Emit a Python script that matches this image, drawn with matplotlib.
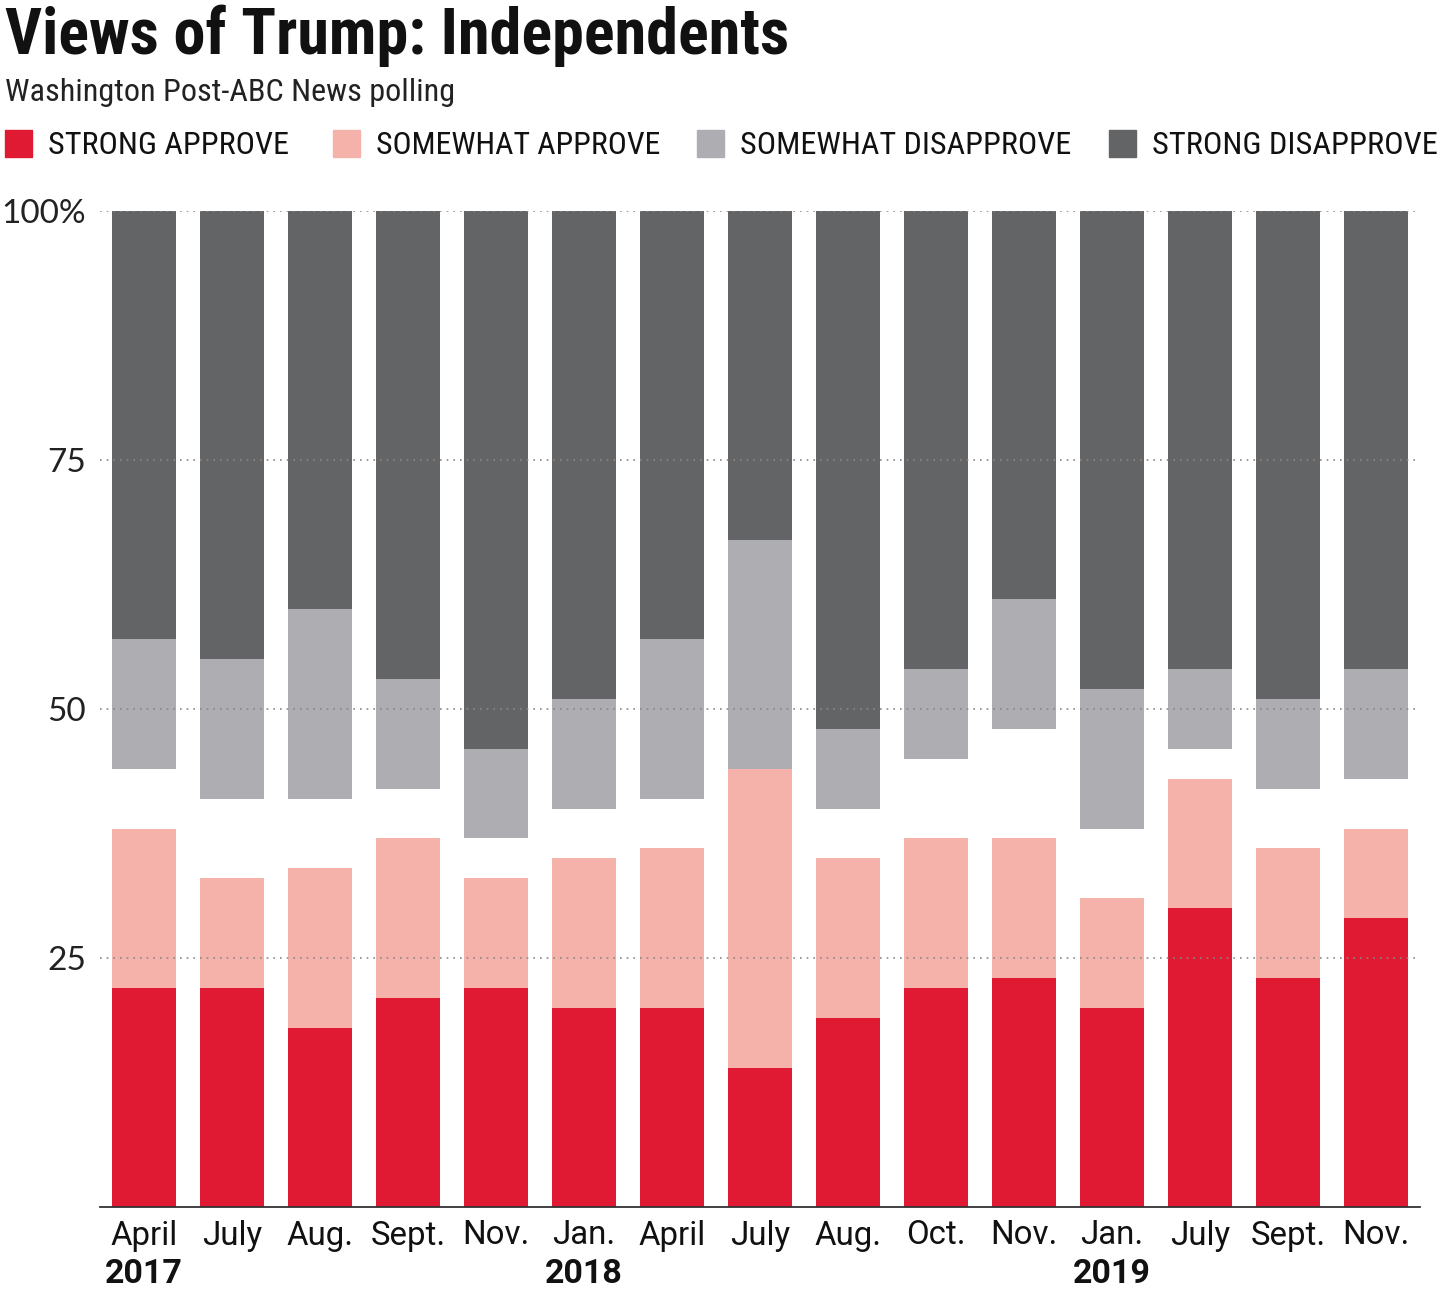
import numpy as np
import matplotlib
matplotlib.use("Agg")
import matplotlib.pyplot as plt
from matplotlib.patches import Rectangle

# Dados (porcentagens)
months = ["April", "July", "Aug.", "Sept.", "Nov.", "Jan.", "April", "July",
          "Aug.", "Oct.", "Nov.", "Jan.", "July", "Sept.", "Nov."]
years = {0: "2017", 5: "2018", 11: "2019"}
strong_approve = [22, 22, 18, 21, 22, 20, 20, 14, 19, 22, 23, 20, 30, 23, 29]
somewhat_approve = [16, 11, 16, 16, 11, 15, 16, 30, 16, 15, 14, 11, 13, 13, 9]
somewhat_disapprove = [13, 14, 19, 11, 9, 11, 16, 23, 8, 9, 13, 14, 8, 9, 11]
strong_disapprove = [43, 45, 40, 47, 54, 49, 43, 33, 52, 46, 39, 48, 46, 49, 46]

labels = ["STRONG APPROVE", "SOMEWHAT APPROVE", "SOMEWHAT DISAPPROVE", "STRONG DISAPPROVE"]
colors = ["#e01a33", "#f5b2aa", "#aeaeb2", "#636466"]

cond = ["Roboto Condensed", "Roboto", "DejaVu Sans"]
norm = ["Roboto", "DejaVu Sans"]
reg = ["Lato", "DejaVu Sans"]

W, H = 1440, 1294
fig = plt.figure(figsize=(W / 100, H / 100), dpi=100)
renderer = fig.canvas.get_renderer()


def fit(txt, target_px):
    # ajusta o tamanho da fonte para a largura medida na referencia
    w = txt.get_window_extent(renderer).width
    txt.set_fontsize(txt.get_fontsize() * target_px / w)
    return txt.get_fontsize()


def size_for(s, target_px, **kw):
    t = fig.text(0, 0, s, fontsize=20, **kw)
    fs = fit(t, target_px)
    t.remove()
    return fs


ax = fig.add_axes([100 / W, 1 - 1207 / H, 1320 / W, (1207 - 211) / H])

x = np.arange(len(months))
sa = np.array(strong_approve)
swa = np.array(somewhat_approve)
swd = np.array(somewhat_disapprove)
sd = np.array(strong_disapprove)
bw = 0.727

ax.bar(x, sa, bw, color=colors[0], zorder=2)
ax.bar(x, swa, bw, bottom=sa, color=colors[1], zorder=2)
ax.bar(x, sd, bw, bottom=100 - sd, color=colors[3], zorder=2)
ax.bar(x, swd, bw, bottom=100 - sd - swd, color=colors[2], zorder=2)

ax.set_xlim(-0.5, len(months) - 0.5)
ax.set_ylim(0, 100)
for s in ["top", "right", "left"]:
    ax.spines[s].set_visible(False)
ax.spines["bottom"].set_color("#333333")
ax.spines["bottom"].set_linewidth(1.3)
ax.spines["bottom"].set_zorder(3)

for yv in [25, 50, 75, 100]:
    ax.axhline(yv, color="#888888", lw=1.2, ls=(0, (1, 3)), zorder=3)

fs_y = size_for("100%", 85, family=reg)
ax.set_yticks([25, 50, 75, 100])
ax.set_yticklabels(["25", "50", "75", "100%"], family=reg, fontsize=fs_y, color="#222222")
ax.tick_params(axis="y", length=0, pad=10)

fs_m = size_for("Sept.", 75, family=norm)
ax.set_xticks(x)
ax.set_xticklabels(months, family=norm, fontsize=fs_m, color="#111111")
ax.tick_params(axis="x", length=0, pad=9)

fs_yr = size_for("2017", 78, family=norm, fontweight="bold")
for i, yr in years.items():
    ax.text(i, -5.1, yr, ha="center", va="top", family=norm, fontsize=fs_yr,
            fontweight="bold", color="#111111")

# Titulo e subtitulo
t = fig.text(5 / W, 1 - 54 / H, "Views of Trump: Independents", family=cond,
             fontsize=43, fontweight="bold", va="baseline", ha="left", color="#111111")
fit(t, 785)
t = fig.text(5 / W, 1 - 101 / H, "Washington Post-ABC News polling", family=cond,
             fontsize=19, va="baseline", ha="left", color="#222222")
fit(t, 450)

# Legenda
leg_x = [5, 333, 697, 1109]
leg_w = [240, 284, 330, 286]
for lx, lw, lab, c in zip(leg_x, leg_w, labels, colors):
    fig.patches.append(Rectangle((lx / W, 1 - 157 / H), 27 / W, 27 / H,
                                 transform=fig.transFigure, color=c, figure=fig))
    t = fig.text((lx + 43) / W, 1 - 154 / H, lab, family=cond, fontsize=20,
                 va="baseline", ha="left", color="#111111")
    fit(t, lw)

fig.savefig("out.png", dpi=100)
